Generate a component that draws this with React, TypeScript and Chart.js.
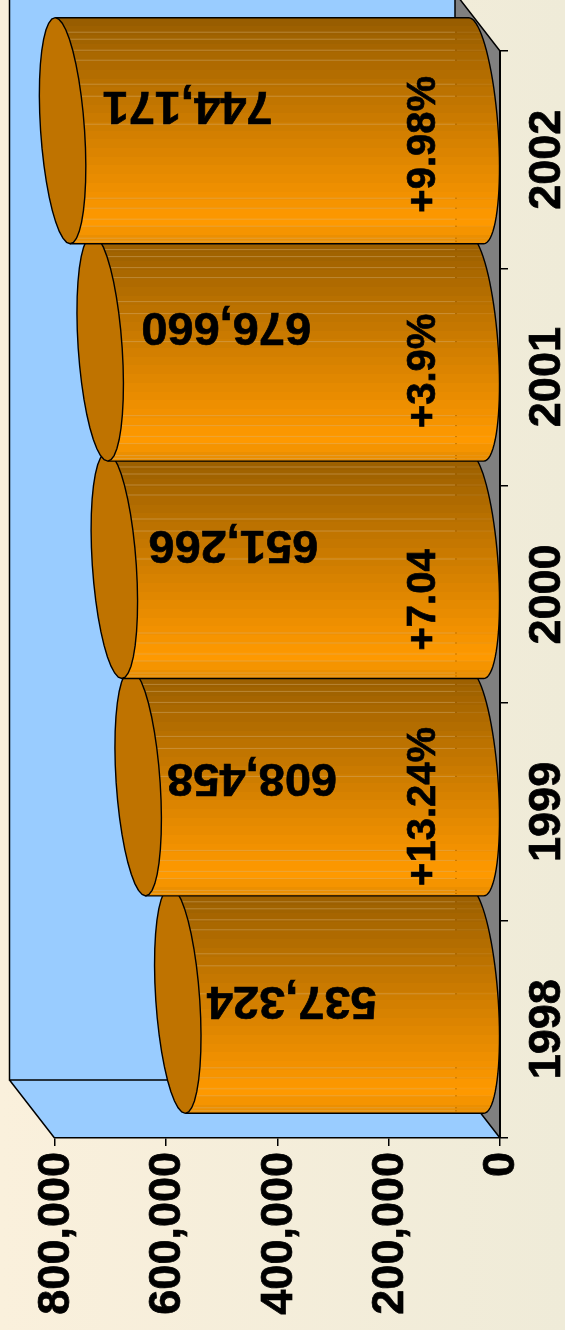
import React, { useEffect, useRef } from "react";
import { Chart, registerables } from "chart.js";

Chart.register(...registerables);

const years = ["1998", "1999", "2000", "2001", "2002"];
const shipments = [537324, 608458, 651266, 676660, 744171];
const changeLabels = ["", "+13.24%", "+7.04", "+3.9%", "+9.98%"];
const valueLabels = ["537,324", "608,458", "651,266", "676,660", "744,171"];

// hand-placed label offsets, as in the source slide
const valueOffsetX = [91, 91, 96, 103, 102];
const valueOffsetY = [0, -6, -22, -22, -26];
const changeEndOffset = [0, 10, 28, 33, 31];

const FONT = '"Liberation Sans", Arial, sans-serif';
const DEPTH_X = 45;
const DEPTH_Y = 58;
const BAR_SHIFT = -29;
const BAR_THICK = 226;
const CAP_A = 22;
const CAP_B = 7.5;
const CAP_R = 23;
// stripe distances above each bar's lower edge
const stripeOffsets = [212, 205, 194, 184, 160, 148, 120, 46, 36, 25, 18, 6, 3];

function lerp(a: number, b: number, t: number) {
  return Math.round(a + (b - a) * t);
}

function bandColor(t: number) {
  // dark brown-orange to bright orange, dropping a little at the lower rim
  if (t < 0.9) {
    const k = t / 0.9;
    return `rgb(${lerp(0x96, 0xff, k)},${lerp(0x5c, 0x99, k)},0)`;
  }
  const k = (t - 0.9) / 0.1;
  return `rgb(${lerp(0xff, 0xe8, k)},${lerp(0x99, 0x8c, k)},0)`;
}

function barFill(c: any) {
  const chart = c.chart;
  if (c.dataIndex === undefined || !chart.scales.y) return "#ff9900";
  const cy = chart.scales.y.getPixelForValue(c.dataIndex);
  if (!Number.isFinite(cy)) return "#ff9900";
  const g = chart.ctx.createLinearGradient(0, cy - BAR_THICK / 2, 0, cy + BAR_THICK / 2);
  const n = 26;
  for (let i = 0; i < n; i++) {
    const col = bandColor((i + 0.5) / n);
    g.addColorStop(i / n, col);
    g.addColorStop((i + 1) / n, col);
  }
  return g;
}

function ellipsePoint(cx: number, cy: number, t: number) {
  return [cx + CAP_A * Math.cos(t) + CAP_B * Math.sin(t), cy + (BAR_THICK / 2) * Math.sin(t)];
}

function traceArc(ctx: CanvasRenderingContext2D, cx: number, cy: number, from: number, to: number, start: boolean) {
  const steps = 40;
  for (let i = 0; i <= steps; i++) {
    const t = from + ((to - from) * i) / steps;
    const [x, y] = ellipsePoint(cx, cy, t);
    if (i === 0 && start) ctx.moveTo(x, y);
    else ctx.lineTo(x, y);
  }
}

const cylinderPlugin = {
  id: "cylinder",
  beforeDraw(chart: any) {
    const { ctx, width, height, chartArea: a } = chart;
    const bg = ctx.createLinearGradient(0, 0, width, 0);
    bg.addColorStop(0, "#faf0dc");
    bg.addColorStop(1, "#efebd8");
    ctx.fillStyle = bg;
    ctx.fillRect(0, 0, width, height);

    const bl = a.left - DEPTH_X;
    const br = a.right - DEPTH_X;
    const bt = a.top - DEPTH_Y;
    const bb = a.bottom - DEPTH_Y;
    ctx.fillStyle = "#99ccff";
    ctx.fillRect(bl, bt, br - bl, bb - bt);
    ctx.beginPath();
    ctx.moveTo(bl, bb);
    ctx.lineTo(a.left, a.bottom);
    ctx.lineTo(a.right, a.bottom);
    ctx.lineTo(br, bb);
    ctx.closePath();
    ctx.fill();
    ctx.fillStyle = "#808080";
    ctx.beginPath();
    ctx.moveTo(br, bt);
    ctx.lineTo(a.right, a.top);
    ctx.lineTo(a.right, a.bottom);
    ctx.lineTo(br, bb);
    ctx.closePath();
    ctx.fill();

    ctx.strokeStyle = "#000";
    ctx.lineWidth = 1.5;
    ctx.beginPath();
    ctx.moveTo(bl, bt);
    ctx.lineTo(bl, bb);
    ctx.lineTo(br, bb);
    ctx.lineTo(br, bt);
    ctx.moveTo(bl, bb);
    ctx.lineTo(a.left, a.bottom);
    ctx.moveTo(br, bb);
    ctx.lineTo(a.right, a.bottom);
    ctx.moveTo(br, bt);
    ctx.lineTo(a.right, a.top);
    ctx.stroke();
  },
  beforeDatasetDraw(chart: any, args: any) {
    const { ctx, chartArea: a } = chart;
    const meta = args.meta;
    const wallX = a.right - DEPTH_X;
    meta.data.forEach((bar: any) => {
      const cy = bar.y + BAR_SHIFT;
      const bottom = cy + BAR_THICK / 2;
      const capX = bar.x - CAP_R;
      const frontX = bar.base - CAP_R;
      const [tx, ty] = ellipsePoint(capX, cy, -Math.PI / 2);
      const [bx, by] = ellipsePoint(capX, cy, Math.PI / 2);

      ctx.save();
      ctx.beginPath();
      ctx.moveTo(tx, ty);
      traceArc(ctx, frontX, cy, -Math.PI / 2, Math.PI / 2, false);
      ctx.lineTo(bx, by);
      ctx.closePath();
      ctx.clip();

      // the library's bar, plus the same bar slid back behind the cap's slanted rim
      ctx.save();
      ctx.translate(-(CAP_R + CAP_B + 4), BAR_SHIFT);
      bar.draw(ctx);
      ctx.restore();
      ctx.save();
      ctx.translate(0, BAR_SHIFT);
      bar.draw(ctx);
      ctx.restore();

      stripeOffsets.forEach((off) => {
        const y = bottom - off;
        ctx.fillStyle = "rgba(214,178,120,0.45)";
        ctx.fillRect(capX - 8, y, wallX - capX + 8, 1);
        ctx.fillStyle = "rgba(150,90,0,0.5)";
        ctx.fillRect(wallX, y, 2, 1);
        ctx.fillStyle = "rgba(214,178,120,0.18)";
        ctx.fillRect(wallX + 2, y, a.right - wallX, 1);
      });
      ctx.restore();

      // outline of the body
      ctx.strokeStyle = "#000";
      ctx.lineWidth = 1.4;
      ctx.beginPath();
      ctx.moveTo(tx, ty);
      traceArc(ctx, frontX, cy, -Math.PI / 2, Math.PI / 2, false);
      ctx.lineTo(bx, by);
      ctx.stroke();

      // end cap
      ctx.beginPath();
      traceArc(ctx, capX, cy, 0, Math.PI * 2, true);
      ctx.closePath();
      ctx.fillStyle = "#bf7300";
      ctx.fill();
      ctx.stroke();
    });
    return false;
  },
  afterDatasetsDraw(chart: any) {
    const { ctx } = chart;
    const xs = chart.scales.x;
    const ys = chart.scales.y;
    ctx.save();
    ctx.fillStyle = "#000";
    ctx.strokeStyle = "#000";
    ctx.lineWidth = 0.7;
    shipments.forEach((v, i) => {
      const cy = ys.getPixelForValue(i) + BAR_SHIFT;
      ctx.save();
      ctx.translate(xs.getPixelForValue(v) + valueOffsetX[i], cy + valueOffsetY[i]);
      ctx.rotate(Math.PI);
      ctx.font = `bold 47px ${FONT}`;
      ctx.textAlign = "center";
      ctx.textBaseline = "middle";
      ctx.fillText(valueLabels[i], 0, 0);
      ctx.strokeText(valueLabels[i], 0, 0);
      ctx.restore();
      if (changeLabels[i]) {
        ctx.save();
        ctx.translate(424, cy + BAR_THICK / 2 - changeEndOffset[i]);
        ctx.rotate(-Math.PI / 2);
        ctx.font = `bold 40px ${FONT}`;
        ctx.textAlign = "left";
        ctx.textBaseline = "middle";
        ctx.fillText(changeLabels[i], 0, 0);
        ctx.strokeText(changeLabels[i], 0, 0);
        ctx.restore();
      }
    });
    ctx.restore();
  },
};

export default function App() {
  const ref = useRef<HTMLCanvasElement>(null);
  useEffect(() => {
    const chart = new Chart(ref.current as HTMLCanvasElement, {
      type: "bar",
      data: {
        labels: years,
        datasets: [
          {
            data: shipments,
            backgroundColor: barFill as any,
            borderWidth: 0,
            barThickness: BAR_THICK,
            clip: false as any,
          },
        ],
      },
      options: {
        indexAxis: "y",
        responsive: false,
        animation: false,
        events: [],
        layout: { autoPadding: false, padding: { left: 54.5, top: 51 } },
        plugins: { legend: { display: false }, tooltip: { enabled: false }, title: { display: false } },
        scales: {
          x: {
            position: "bottom",
            reverse: true,
            min: 0,
            max: 800000,
            afterFit: (s: any) => {
              s.height = 192;
            },
            border: { color: "#000", width: 1.5 },
            grid: { drawOnChartArea: false, drawTicks: true, tickLength: 8, color: "#000", lineWidth: 1.5 },
            ticks: {
              stepSize: 200000,
              minRotation: 90,
              maxRotation: 90,
              padding: 6,
              labelOffset: 2,
              color: "#000",
              textStrokeColor: "#000",
              textStrokeWidth: 0.7,
              font: { family: FONT, weight: "bold", size: 45 },
              callback: (v: any) => Number(v).toLocaleString("en-US"),
            },
          },
          y: {
            position: "right",
            reverse: true,
            z: 1,
            afterFit: (s: any) => {
              s.width = 65;
            },
            border: { color: "#000", width: 2 },
            grid: { drawOnChartArea: false, drawTicks: true, tickLength: 8, color: "#000", lineWidth: 1.5 },
            ticks: {
              minRotation: 90,
              maxRotation: 90,
              crossAlign: "center",
              padding: -10,
              color: "#000",
              textStrokeColor: "#000",
              textStrokeWidth: 0.7,
              font: { family: FONT, weight: "bold", size: 45 },
            },
          },
        },
      } as any,
      plugins: [cylinderPlugin as any],
    });
    return () => chart.destroy();
  }, []);
  return (
    <canvas
      ref={ref}
      width={565}
      height={1330}
      style={{ position: "absolute", left: 0, top: 0, display: "block", width: 565, height: 1330 }}
    />
  );
}
